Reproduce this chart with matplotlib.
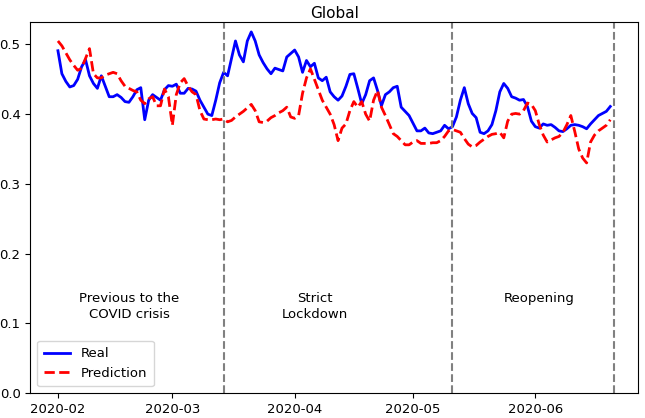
import numpy as np
import pandas as pd
import matplotlib
matplotlib.use('Agg')
import matplotlib.pyplot as plt

# daily values, 2020-02-01 .. 2020-06-20
start_date = "2020-02-01"
real = [
    0.491, 0.458, 0.447, 0.439, 0.441, 0.450, 0.468, 0.478, 0.455, 0.444,
    0.437, 0.455, 0.440, 0.425, 0.425, 0.428, 0.424, 0.418, 0.417, 0.425,
    0.435, 0.438, 0.392, 0.420, 0.428, 0.424, 0.420, 0.435, 0.441, 0.440,
    0.443, 0.430, 0.430, 0.437, 0.436, 0.433, 0.420, 0.410, 0.400, 0.398,
    0.420, 0.445, 0.460, 0.455, 0.480, 0.505, 0.485, 0.475, 0.505, 0.518,
    0.505, 0.485, 0.474, 0.465, 0.458, 0.466, 0.464, 0.462, 0.482, 0.487,
    0.492, 0.482, 0.460, 0.477, 0.468, 0.473, 0.452, 0.448, 0.453, 0.432,
    0.425, 0.420, 0.426, 0.440, 0.457, 0.458, 0.437, 0.415, 0.428, 0.448,
    0.452, 0.434, 0.412, 0.428, 0.432, 0.438, 0.440, 0.410, 0.404, 0.398,
    0.387, 0.376, 0.376, 0.380, 0.373, 0.372, 0.374, 0.376, 0.384, 0.379,
    0.382, 0.396, 0.420, 0.438, 0.415, 0.401, 0.395, 0.374, 0.372, 0.376,
    0.385, 0.405, 0.432, 0.444, 0.437, 0.425, 0.423, 0.420, 0.421, 0.411,
    0.390, 0.382, 0.380, 0.386, 0.384, 0.385, 0.381, 0.376, 0.375, 0.379,
    0.384, 0.385, 0.384, 0.382, 0.379, 0.386, 0.392, 0.398, 0.401, 0.404,
    0.411,
]
prediction = [
    0.505, 0.498, 0.488, 0.478, 0.470, 0.463, 0.466, 0.480, 0.494, 0.458,
    0.452, 0.452, 0.456, 0.458, 0.460, 0.458, 0.448, 0.440, 0.437, 0.434,
    0.432, 0.420, 0.415, 0.422, 0.425, 0.412, 0.412, 0.436, 0.425, 0.384,
    0.428, 0.445, 0.451, 0.440, 0.432, 0.428, 0.405, 0.393, 0.392, 0.392,
    0.393, 0.392, 0.393, 0.389, 0.391, 0.396, 0.400, 0.404, 0.409, 0.414,
    0.405, 0.389, 0.388, 0.390, 0.395, 0.398, 0.402, 0.405, 0.410, 0.396,
    0.394, 0.398, 0.430, 0.452, 0.465, 0.450, 0.435, 0.420, 0.410, 0.400,
    0.385, 0.362, 0.380, 0.386, 0.405, 0.418, 0.410, 0.418, 0.400, 0.390,
    0.420, 0.434, 0.410, 0.398, 0.385, 0.372, 0.368, 0.362, 0.356, 0.356,
    0.360, 0.362, 0.358, 0.358, 0.358, 0.359, 0.359, 0.362, 0.368, 0.376,
    0.378, 0.376, 0.374, 0.365, 0.357, 0.353, 0.355, 0.360, 0.364, 0.368,
    0.371, 0.372, 0.374, 0.366, 0.390, 0.400, 0.401, 0.400, 0.405, 0.416,
    0.414, 0.405, 0.385, 0.370, 0.360, 0.363, 0.366, 0.368, 0.374, 0.385,
    0.398, 0.375, 0.350, 0.337, 0.330, 0.360, 0.370, 0.376, 0.380, 0.384,
    0.392,
]
phase_breaks = ["2020-03-14", "2020-05-11", "2020-06-21"]
phase_labels = ["Previous to the\nCOVID crisis", "Strict\nLockdown", "Reopening"]
phase_label_dates = ["2020-02-19", "2020-04-06", "2020-06-02"]

dates = pd.date_range(start_date, periods=len(real), freq="D")

fig = plt.figure(figsize=(6.45, 4.18), dpi=100)
ax = fig.add_subplot(111)
fig.subplots_adjust(left=0.047, right=0.989, bottom=0.06, top=0.947)

ax.plot(dates, real, color="blue", linewidth=2, label="Real")
ax.plot(dates, prediction, color="red", linestyle="--", linewidth=2, label="Prediction")

for d in phase_breaks:
    ax.axvline(pd.Timestamp(d), color="gray", linestyle="--", linewidth=1.5)

for d, txt in zip(phase_label_dates, phase_labels):
    ax.text(pd.Timestamp(d), 0.145, txt, ha="center", va="top",
            fontsize=9.5, linespacing=1.35)

ax.set_ylim(0, 0.532)
ax.set_yticks([0.0, 0.1, 0.2, 0.3, 0.4, 0.5])
ax.tick_params(labelsize=9.5)
ax.set_title("Global", fontsize=11, pad=3)
ax.legend(loc="lower left", fontsize=9.5, borderpad=0.5)

fig.savefig("out.png", dpi=100)
